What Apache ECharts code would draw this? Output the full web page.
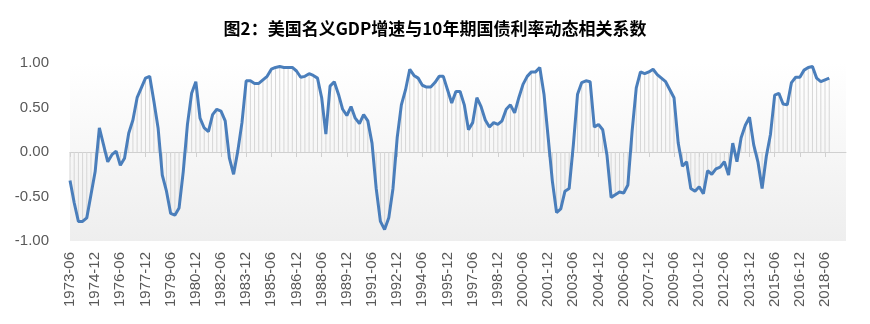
<!DOCTYPE html>
<html>
<head>
<meta charset="utf-8">
<script src="https://cdn.jsdelivr.net/npm/echarts@6/dist/echarts.min.js"></script>
<style>html,body{margin:0;padding:0;background:#fff;}#c{width:870px;height:324px;}</style>
</head>
<body>
<div id="c"></div>
<script>
var titleText = '图2：美国名义GDP增速与10年期国债利率动态相关系数';
var startYear = 1973, startMonth = 6, endYear = 2019, endMonth = 9;
var yTicks = [-1, -0.5, 0, 0.5, 1];
var corrValues = [
 -0.32,-0.57,-0.78,-0.78,-0.74,-0.48,-0.22,0.27,0.08,-0.11,
 -0.03,0.01,-0.15,-0.07,0.21,0.36,0.61,0.72,0.83,0.85,
 0.57,0.27,-0.26,-0.44,-0.69,-0.71,-0.63,-0.22,0.31,0.66,
 0.79,0.38,0.27,0.23,0.42,0.48,0.46,0.35,-0.07,-0.25,
 0.01,0.33,0.80,0.80,0.77,0.77,0.81,0.85,0.93,0.95,
 0.96,0.95,0.95,0.95,0.91,0.84,0.85,0.88,0.86,0.83,
 0.61,0.20,0.74,0.79,0.65,0.48,0.41,0.51,0.38,0.32,
 0.42,0.35,0.10,-0.41,-0.78,-0.87,-0.74,-0.41,0.16,0.53,
 0.70,0.93,0.86,0.83,0.75,0.73,0.73,0.78,0.85,0.85,
 0.70,0.55,0.68,0.68,0.53,0.25,0.33,0.61,0.51,0.36,
 0.28,0.33,0.31,0.35,0.48,0.53,0.44,0.61,0.76,0.85,
 0.90,0.90,0.95,0.65,0.16,-0.33,-0.68,-0.64,-0.44,-0.41,
 0.08,0.65,0.78,0.80,0.79,0.28,0.31,0.25,-0.03,-0.51,
 -0.48,-0.45,-0.46,-0.37,0.23,0.72,0.90,0.88,0.90,0.93,
 0.87,0.83,0.79,0.70,0.61,0.10,-0.16,-0.11,-0.41,-0.44,
 -0.39,-0.47,-0.21,-0.25,-0.19,-0.17,-0.11,-0.26,0.10,-0.11,
 0.16,0.30,0.39,0.08,-0.11,-0.41,-0.05,0.20,0.64,0.66,
 0.54,0.53,0.78,0.84,0.84,0.92,0.95,0.96,0.83,0.79,
 0.81,0.83
];

var categories = [];
for (var y = startYear, m = startMonth; y < endYear || (y === endYear && m <= endMonth); ) {
  categories.push(y + '-' + (m < 10 ? '0' + m : '' + m));
  m += 3; if (m > 12) { m -= 12; y += 1; }
}
var seriesData = categories.map(function (c, i) { return i < corrValues.length ? corrValues[i] : null; });

var chart = echarts.init(document.getElementById('c'), null, {renderer: 'canvas'});
var font = '"Liberation Sans", Arial, sans-serif';
chart.setOption({
  animation: false,
  title: {
    text: titleText, left: 'center', top: 15,
    textStyle: {fontSize: 17, fontWeight: 'bold', color: '#000', fontFamily: '"Noto Sans CJK SC", sans-serif'}
  },
  grid: {
    left: 70, right: 24, top: 63, bottom: 83, show: true, borderWidth: 0,
    backgroundColor: new echarts.graphic.LinearGradient(0, 0, 0, 1, [
      {offset: 0, color: '#ffffff'}, {offset: 1, color: '#eeeeee'}
    ])
  },
  xAxis: [{
    type: 'category', data: categories, boundaryGap: false, position: 'bottom',
    axisLine: {show: false, onZero: false}, axisTick: {show: false},
    axisLabel: {interval: 5, rotate: 90, fontSize: 15, color: '#595959', margin: 11, fontFamily: font},
    splitLine: {show: false}
  }, {
    type: 'category', data: categories, boundaryGap: false, position: 'top',
    axisLine: {show: true, onZero: true, lineStyle: {color: '#d0d0d0', width: 1}},
    axisTick: {show: true, inside: true, interval: 5, length: 5, lineStyle: {color: '#d0d0d0'}},
    axisLabel: {show: false}, splitLine: {show: false}
  }],
  yAxis: {
    type: 'value', min: yTicks[0], max: yTicks[yTicks.length - 1], interval: 0.5,
    axisLine: {show: false}, axisTick: {show: false}, splitLine: {show: false},
    axisLabel: {fontSize: 15, color: '#595959', margin: 21, fontFamily: font,
      formatter: function (v) { return v.toFixed(2); }}
  },
  series: [{
    type: 'bar', xAxisIndex: 0, data: seriesData, barWidth: 1, silent: true,
    itemStyle: {color: '#d6d6d6'}, z: 1
  }, {
    type: 'line', xAxisIndex: 0, data: seriesData, symbol: 'none', smooth: false,
    lineStyle: {color: '#4a7ebb', width: 3}, z: 3
  }]
});
</script>
</body>
</html>
